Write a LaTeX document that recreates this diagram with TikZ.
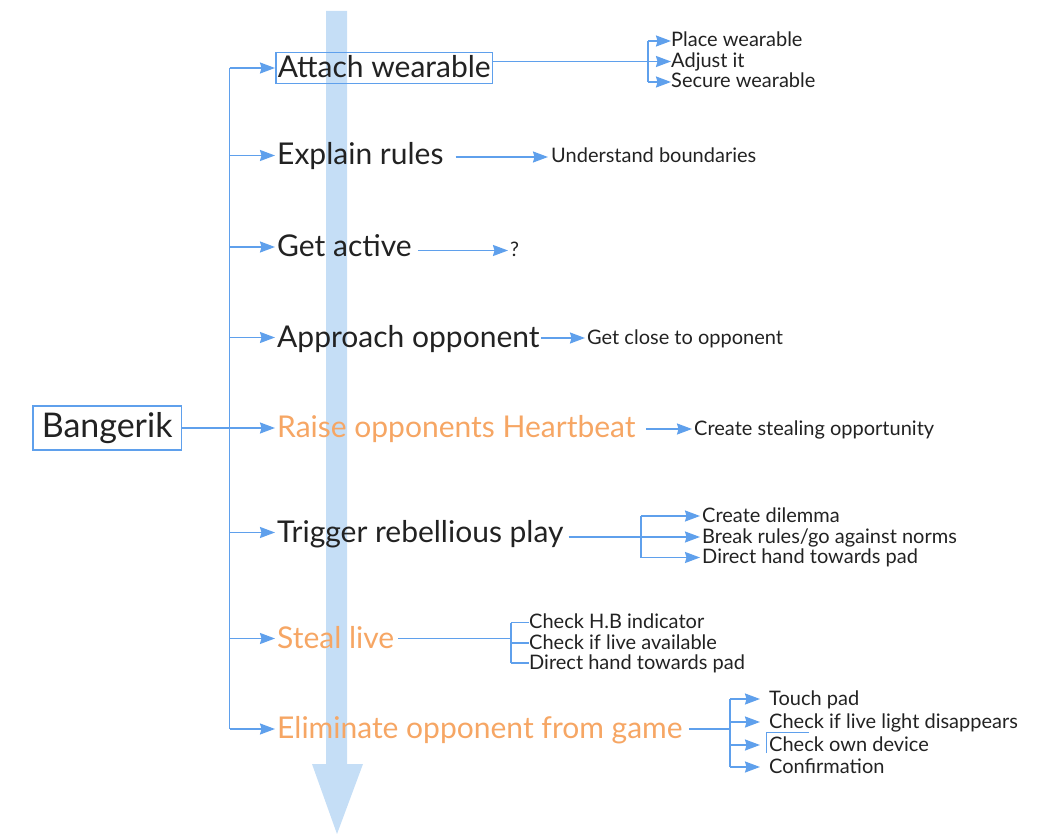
\documentclass[tikz,border=0pt]{standalone}
\usepackage{fontspec}
\setmainfont{Lato}
\usetikzlibrary{arrows.meta,calc}
\definecolor{linkblue}{RGB}{95,160,236}
\definecolor{flowblue}{RGB}{197,222,246}
\definecolor{accent}{RGB}{246,166,100}
\definecolor{ink}{RGB}{34,34,34}
\begin{document}
\begin{tikzpicture}[x=1pt,y=-1pt,
  link/.style={draw=linkblue,line width=1.7pt},
  arr/.style={link,-{Stealth[length=15pt,width=11pt,inset=1.5pt]}},
  mainitem/.style={anchor=west,inner sep=0pt,text=ink,
    font=\fontsize{30}{36}\selectfont,text height=23pt,text depth=4pt},
  subitem/.style={anchor=west,inner sep=0pt,text=ink,
    font=\fontsize{20}{24}\selectfont,text height=16pt,text depth=4pt},
  hot/.style={text=accent},
  ]
\useasboundingbox (0,0) rectangle (1043,834);

% broad downward flow arrow behind everything
\fill[flowblue] (326,11) -- (347,11) -- (347,764) -- (363,764) -- (337,834)
  -- (312,764) -- (326,764) -- cycle;

% root
\node[anchor=west,draw=linkblue,line width=1.5pt,inner xsep=9pt,inner ysep=6pt,
  text=ink,font=\fontsize{34}{40}\selectfont,text height=25pt,text depth=7pt]
  (root) at (32,428) {Bangerik};

% main steps
\node[mainitem,draw=linkblue,line width=1.5pt,inner xsep=2pt,inner ysep=2pt]
  (attach) at (275,68) {Attach wearable};
\node[mainitem] (explain) at (277,155.5) {Explain rules};
\node[mainitem] (active) at (277,247) {Get active};
\node[mainitem] (approach) at (277,337.5) {Approach opponent};
\node[mainitem,hot] (raise) at (277,428) {Raise opponents Heartbeat};
\node[mainitem] (trigger) at (277,532.5) {Trigger rebellious play};
\node[mainitem,hot] (steal) at (277,638.5) {Steal live};
\node[mainitem,hot] (elim) at (277,729) {Eliminate opponent from game};

% spine and branches
\coordinate (spine) at (229.5,0);
\draw[link] (spine |- attach.west) -- (spine |- elim.west);
\draw[arr] (spine |- attach.west) -- (attach.west);
\foreach \n in {explain,active,approach,trigger,steal,elim}
  \draw[arr,shorten >=2pt] (spine |- \n.west) -- (\n.west);
\draw[arr,shorten >=2pt] (root.east) -- (raise.west);

% attach wearable
\node[subitem] (place) at (671,41) {Place wearable};
\node[subitem] (adjust) at (671,61.5) {Adjust it};
\node[subitem] (secure) at (671,82) {Secure wearable};
\coordinate (fork1) at (648,0);
\draw[arr] (attach.east |- adjust.west) -- (adjust.west);
\draw[link] (fork1 |- place.west) -- (fork1 |- secure.west);
\draw[arr] (fork1 |- place.west) -- (place.west);
\draw[arr] (fork1 |- secure.west) -- (secure.west);

% explain rules
\node[subitem] (bounds) at (551,157) {Understand boundaries};
\draw[arr,shorten >=3pt] ($(explain.east |- bounds.west)+(12,0)$) -- (bounds.west);

% get active
\node[subitem] (unknown) at (510,250.5) {?};
\draw[arr,shorten >=2pt] ($(active.east |- unknown.west)+(6,0)$) -- (unknown.west);

% approach opponent
\node[subitem] (close) at (587,338) {Get close to opponent};
\draw[arr,shorten >=2pt] ($(approach.east |- close.west)+(1,0)$) -- (close.west);

% raise heartbeat
\node[subitem] (chance) at (694,429) {Create stealing opportunity};
\draw[arr,shorten >=2pt] ($(raise.east |- chance.west)+(10,0)$) -- (chance.west);

% trigger rebellious play
\node[subitem] (dilemma) at (702,516) {Create dilemma};
\node[subitem] (norms) at (702,537) {Break rules/go against norms};
\node[subitem] (handA) at (702,557.5) {Direct hand towards pad};
\coordinate (fork2) at (641,0);
\draw[arr,shorten >=2pt] ($(trigger.east |- norms.west)+(5,0)$) -- (norms.west);
\draw[link] (fork2 |- dilemma.west) -- (fork2 |- handA.west);
\draw[arr,shorten >=2pt] (fork2 |- dilemma.west) -- (dilemma.west);
\draw[arr,shorten >=2pt] (fork2 |- handA.west) -- (handA.west);

% steal live
\node[subitem] (hb) at (529,622.5) {Check H.B indicator};
\node[subitem] (avail) at (529,643) {Check if live available};
\node[subitem] (handB) at (529,663) {Direct hand towards pad};
\coordinate (fork3) at (511,0);
\draw[link] ($(steal.east)+(4,0)$) -- (fork3 |- steal.east);
\draw[link] (fork3 |- hb.west) -- (fork3 |- handB.west);
\foreach \n in {hb,avail,handB}
  \draw[link] (fork3 |- \n.west) -- (\n.west);

% eliminate opponent
\node[subitem] (touch) at (769,699) {Touch pad};
\node[subitem] (light) at (769,722) {Check if live light disappears};
\node[subitem] (own) at (769,745) {Check own device};
\node[subitem] (confirm) at (769,767) {Confirmation};
\coordinate (fork4) at (730,0);
\draw[link] ($(elim.east)+(6,0)$) -- (fork4 |- elim.east);
\draw[link] (fork4 |- touch.west) -- (fork4 |- confirm.west);
\foreach \n in {touch,light,own,confirm}
  \draw[arr,shorten >=9pt] (fork4 |- \n.west) -- (\n.west);
\draw[linkblue,line width=1pt] (766,753) -- (766,732) -- (809,732);
\end{tikzpicture}
\end{document}
